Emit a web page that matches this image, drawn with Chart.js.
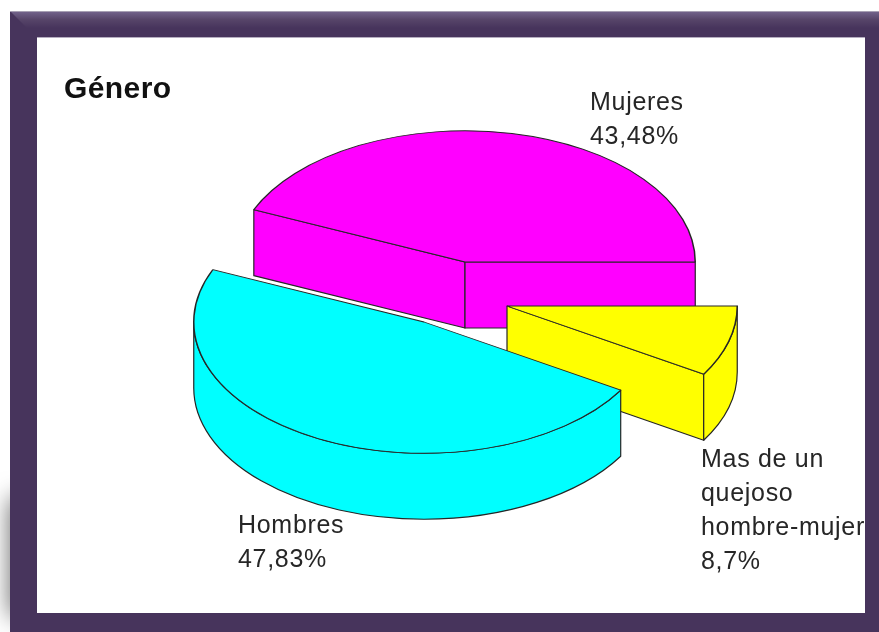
<!DOCTYPE html>
<html>
<head>
<meta charset="utf-8">
<title>Género</title>
<style>
  html, body { margin: 0; padding: 0; background: #fff; overflow: hidden; }
  canvas { display: block; }
</style>
<script src="https://cdn.jsdelivr.net/npm/chart.js@4/dist/chart.umd.min.js"></script>
</head>
<body>
<canvas id="pie" width="879" height="632"></canvas>
<script>
// --- data, clockwise from 3 o'clock ---
const titleText = 'Género';
const categories = ['Mas de un quejoso hombre-mujer', 'Hombres', 'Mujeres'];
const labelLines = [['Mas de un', 'quejoso', 'hombre-mujer'], ['Hombres'], ['Mujeres']];
const values = [8.7, 47.83, 43.48];
const sliceColors = ['#ffff00', '#00ffff', '#ff00ff'];

// --- 3D look ---
const SQUASH = 0.57;                            // vertical flattening of the disc
const DEPTH = 66;                               // wall height
const EDGE = '#262626';
const explode = [[42, 44], [-41, 60], [0, 0]];  // slice pull-out, px
const paintOrder = [2, 0, 1];                   // back to front
const labelAnchors = [[701, 467], [238, 533], [590, 110]];
const LINE_H = 34;

// frame + soft shadow on the left
function drawFrame(ctx) {
    ctx.save();
    ctx.fillStyle = '#fff';
    ctx.fillRect(0, 0, 879, 632);

    ctx.save();
    ctx.beginPath();
    ctx.rect(0, 470, 10, 162);
    ctx.clip();
    ctx.shadowColor = 'rgba(0,0,0,0.6)';
    ctx.shadowBlur = 24;
    ctx.fillStyle = '#47345c';
    ctx.fillRect(10, 498, 60, 118);
    ctx.restore();

    ctx.fillStyle = '#47345c';
    ctx.fillRect(10, 11, 869, 621);

    const top = ctx.createLinearGradient(0, 11, 0, 28);
    top.addColorStop(0, '#75658e');
    top.addColorStop(0.5, '#574569');
    top.addColorStop(1, '#47345c');
    ctx.fillStyle = top;
    ctx.beginPath();
    ctx.moveTo(10, 11);
    ctx.lineTo(879, 11);
    ctx.lineTo(879, 28);
    ctx.lineTo(27, 28);
    ctx.closePath();
    ctx.fill();

    ctx.fillStyle = '#a8a0b4';
    ctx.fillRect(10, 11, 869, 1);

    ctx.fillStyle = '#fff';
    ctx.fillRect(37, 38, 828, 575);
    ctx.fillStyle = '#b5adc0';
    ctx.fillRect(37, 37, 828, 1);
    ctx.restore();
}

function drawWalls(ctx, arc, cx, cy) {
    const r = arc.outerRadius, ry = r * SQUASH;
    const a0 = arc.startAngle, a1 = arc.endAngle;

    // flat cut faces, only the ones turned towards the viewer
    const cutFace = (a) => {
        ctx.beginPath();
        ctx.moveTo(cx, cy);
        ctx.lineTo(cx + Math.cos(a) * r, cy + Math.sin(a) * ry);
        ctx.lineTo(cx + Math.cos(a) * r, cy + Math.sin(a) * ry + DEPTH);
        ctx.lineTo(cx, cy + DEPTH);
        ctx.closePath();
        ctx.fill();
        ctx.stroke();
    };
    if (Math.sin(a0 - Math.PI / 2) > 0) cutFace(a0);
    if (Math.sin(a1 + Math.PI / 2) > 0) cutFace(a1);

    // rounded outer wall, front half of the ellipse only
    const from = Math.max(a0, 0), to = Math.min(a1, Math.PI);
    if (to > from) {
        ctx.beginPath();
        ctx.ellipse(cx, cy, r, ry, 0, from, to);
        ctx.ellipse(cx, cy + DEPTH, r, ry, 0, to, from, true);
        ctx.closePath();
        ctx.fill();
        ctx.stroke();
    }
}

const tiltedPie = {
    id: 'tiltedPie',
    beforeDraw(chart) {
        drawFrame(chart.ctx);
    },
    beforeDatasetsDraw(chart) {
        const ctx = chart.ctx;
        const arcs = chart.getDatasetMeta(0).data;
        paintOrder.forEach((i) => {
            const arc = arcs[i];
            const cx = arc.x + explode[i][0];
            const cy = arc.y + explode[i][1];

            ctx.save();
            ctx.fillStyle = sliceColors[i];
            ctx.strokeStyle = EDGE;
            ctx.lineWidth = 1.2;
            ctx.lineJoin = 'round';
            drawWalls(ctx, arc, cx, cy);
            ctx.restore();

            // top face is the regular arc element, flattened
            ctx.save();
            ctx.translate(cx, cy);
            ctx.scale(1, SQUASH);
            ctx.translate(-arc.x, -arc.y);
            arc.draw(ctx);
            ctx.restore();
        });
        return false;
    },
    afterDraw(chart) {
        const ctx = chart.ctx;
        ctx.save();
        ctx.beginPath();
        ctx.rect(37, 38, 828, 575);
        ctx.clip();

        ctx.fillStyle = '#111';
        ctx.font = 'bold 30px "Liberation Sans", Arial, sans-serif';
        ctx.letterSpacing = '0.4px';
        ctx.fillText(titleText, 64, 98);

        ctx.fillStyle = '#262626';
        ctx.font = '25px "Liberation Sans", Arial, sans-serif';
        ctx.letterSpacing = '0.7px';
        labelLines.forEach((lines, i) => {
            const [x, y] = labelAnchors[i];
            const pct = String(values[i]).replace('.', ',') + '%';
            lines.concat(pct).forEach((t, n) => ctx.fillText(t, x, y + n * LINE_H));
        });
        ctx.restore();
    }
};

new Chart(document.getElementById('pie'), {
    type: 'pie',
    data: {
        labels: categories,
        datasets: [{
            data: values,
            backgroundColor: sliceColors,
            borderColor: EDGE,
            borderWidth: 1.5
        }]
    },
    options: {
        responsive: false,
        animation: false,
        rotation: 90,
        layout: { padding: { left: 234, right: 183, top: 31, bottom: 139 } },
        plugins: { legend: { display: false }, tooltip: { enabled: false } }
    },
    plugins: [tiltedPie]
});
</script>
</body>
</html>
